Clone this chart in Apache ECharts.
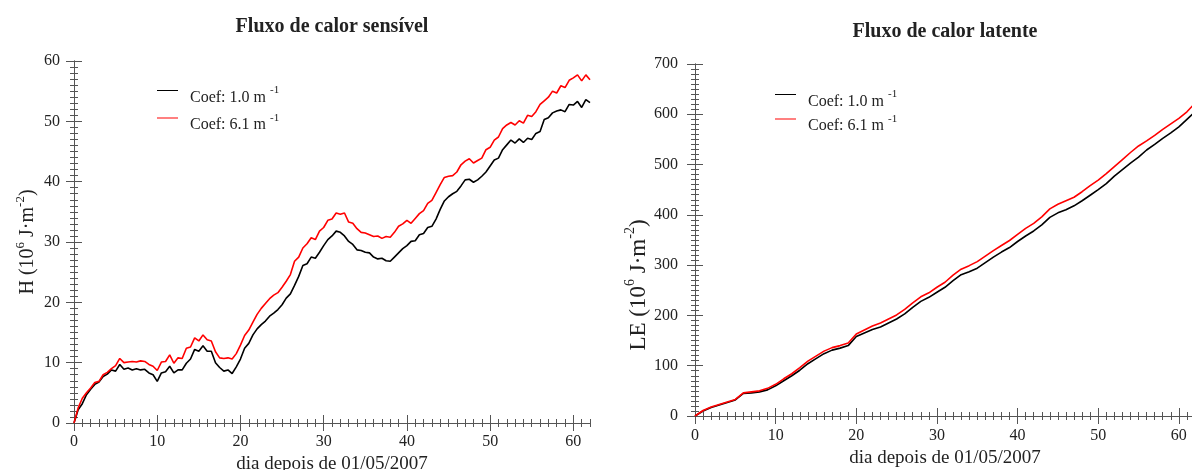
<!DOCTYPE html>
<html>
<head>
<meta charset="utf-8">
<script src="https://cdn.jsdelivr.net/npm/echarts@6/dist/echarts.min.js"></script>
<style>
  html, body { margin: 0; padding: 0; background: #ffffff; }
  #chart { width: 1192px; height: 470px; }
</style>
</head>
<body>
<div id="chart"></div>
<script>
// Accumulated heat fluxes after 01/05/2007 for two attenuation coefficients.
const SERIES_NAMES = ['Coef: 1.0 m-1', 'Coef: 6.1 m-1'];

// Sensible heat, sampled every half day from day 0 to day 62 (10^6 J m^-2)
const H_STEP_DAYS = 0.5;
const H_COEF_1 = [
  0, 2.2, 3.2, 4.7, 5.6, 6.4, 6.8, 7.7, 8.1, 8.8,
  8.6, 9.7, 8.9, 9.1, 8.8, 9.0, 8.8, 8.9, 8.3, 8.0,
  6.9, 8.3, 8.5, 9.4, 8.3, 8.8, 8.8, 9.9, 10.6, 12.2,
  11.9, 12.8, 11.9, 11.9, 10.0, 9.2, 8.6, 8.8, 8.2, 9.3,
  10.6, 12.4, 13.2, 14.6, 15.6, 16.3, 16.9, 17.7, 18.2, 18.8,
  19.6, 20.7, 21.4, 22.8, 24.3, 26.1, 26.4, 27.5, 27.3, 28.3,
  29.4, 30.4, 31.0, 31.8, 31.6, 31.0, 30.1, 29.6, 28.7, 28.6,
  28.3, 28.2, 27.5, 27.2, 27.3, 26.9, 26.8, 27.5, 28.2, 28.9,
  29.4, 30.1, 30.2, 31.2, 31.4, 32.4, 32.6, 33.8, 35.4, 36.8,
  37.5, 38.0, 38.4, 39.3, 40.3, 40.4, 39.9, 40.3, 40.9, 41.6,
  42.6, 43.6, 43.9, 45.3, 46.1, 46.9, 46.4, 47.1, 46.5, 47.2,
  47.0, 48.0, 48.3, 50.3, 50.6, 51.4, 51.7, 51.9, 51.6, 52.8,
  52.7, 53.3, 52.3, 53.6, 53.1
];
const H_COEF_61 = [
  0, 2.5, 4.1, 5.0, 5.8, 6.7, 6.9, 8.0, 8.4, 9.0,
  9.5, 10.7, 10.0, 10.1, 10.2, 10.1, 10.3, 10.2, 9.7, 9.4,
  8.7, 10.1, 10.2, 11.3, 9.9, 10.8, 10.7, 12.4, 12.6, 14.1,
  13.6, 14.6, 13.8, 13.6, 11.8, 10.8, 10.7, 10.8, 10.6, 11.5,
  12.9, 14.5, 15.4, 16.7, 18.0, 19.0, 19.8, 20.6, 21.2, 21.6,
  22.5, 23.5, 24.6, 26.8, 27.5, 29.0, 29.7, 30.7, 30.4, 31.8,
  32.4, 33.6, 33.8, 34.8, 34.6, 34.8, 33.3, 33.1, 32.2, 31.6,
  31.5, 31.2, 30.9, 31.0, 30.6, 30.9, 30.8, 31.6, 32.6, 33.0,
  33.6, 33.1, 33.9, 34.7, 35.2, 36.4, 36.9, 38.2, 39.5, 40.7,
  40.9, 41.0, 41.6, 42.8, 43.4, 43.8, 43.1, 43.5, 43.9, 45.3,
  45.7, 46.9, 47.4, 48.8, 49.4, 49.8, 49.4, 50.1, 49.7, 51.0,
  50.8, 51.6, 52.8, 53.4, 54.0, 55.0, 54.7, 55.9, 55.6, 56.8,
  57.2, 57.7, 56.7, 57.7, 56.9
];

// Latent heat, sampled once a day from day 0 to day 62 (10^6 J m^-2)
const LE_STEP_DAYS = 1;
const LE_COEF_1 = [
  0, 10, 17, 22, 27, 32, 45, 46, 48, 52,
  60, 70, 80, 91, 104, 114, 124, 131, 135, 140,
  158, 165, 172, 177, 185, 193, 203, 216, 228, 236,
  246, 256, 269, 281, 287, 294, 305, 316, 326, 335,
  347, 358, 368, 380, 395, 404, 410, 418, 428, 439,
  450, 462, 477, 490, 503, 515, 529, 540, 552, 563,
  575, 590, 605
];
const LE_COEF_61 = [
  0, 11, 18, 23, 28, 33, 46, 48, 50, 55,
  63, 74, 84, 96, 109, 119, 129, 136, 140, 145,
  163, 171, 179, 185, 193, 201, 212, 225, 237, 245,
  256, 266, 280, 292, 299, 307, 318, 329, 339, 349,
  361, 373, 383, 396, 412, 421, 428, 435, 446, 458,
  469, 482, 496, 510, 524, 537, 547, 558, 570, 581,
  592, 605, 622
];

// Axis ranges and labelled ticks
const DAY_TICKS = [0, 10, 20, 30, 40, 50, 60];
const H_TICKS = [0, 10, 20, 30, 40, 50, 60];
const LE_TICKS = [0, 100, 200, 300, 400, 500, 600, 700];
const DAY_MAX = 62;

const TITLES = ['Fluxo de calor sensível', 'Fluxo de calor latente'];
const X_NAME = 'dia depois de 01/05/2007';

const SERIF = "'Liberation Serif', 'Times New Roman', serif";
const AXIS_COLOR = '#555555';
const TEXT_COLOR = '#222222';

function toPairs(values, step) {
  return values.map((v, i) => [i * step, v]);
}

const legendRich = {
  a: { fontFamily: SERIF, fontSize: 16, color: TEXT_COLOR, padding: [14, 0, 0, 7] },
  s: { fontFamily: SERIF, fontSize: 11, color: TEXT_COLOR, padding: [0, 0, 0, 4] }
};
function legendLabel(name) {
  const base = name.replace(/-1$/, '').trim();
  return '{a|' + base + '}{s|-1}';
}

function nameRich(size) {
  return {
    m: { fontFamily: SERIF, fontSize: size, color: TEXT_COLOR },
    s: { fontFamily: SERIF, fontSize: Math.round(size * 0.63), color: TEXT_COLOR, padding: [0, 0, Math.round(size * 0.72), 0] }
  };
}

// One labelled axis with long ticks plus an overlaid axis carrying the short ticks
function xAxes(gridIndex, labelMargin, nameGap) {
  const common = { type: 'value', gridIndex, min: 0, max: DAY_MAX, splitLine: { show: false } };
  return [
    Object.assign({}, common, {
      position: 'bottom', interval: 10,
      axisLine: { show: true, lineStyle: { color: AXIS_COLOR, width: 1 } },
      axisTick: { show: true, length: 8, customValues: DAY_TICKS, lineStyle: { color: AXIS_COLOR } },
      axisLabel: { show: true, customValues: DAY_TICKS, margin: labelMargin, fontFamily: SERIF, fontSize: 16, color: TEXT_COLOR },
      name: X_NAME, nameLocation: 'middle', nameGap,
      nameTextStyle: { fontFamily: SERIF, fontSize: 19, color: TEXT_COLOR }
    }),
    Object.assign({}, common, {
      position: 'bottom', interval: 1,
      axisLine: { show: false }, axisLabel: { show: false },
      axisTick: { show: true, length: 4, lineStyle: { color: AXIS_COLOR } }
    }),
    Object.assign({}, common, {
      position: 'top', interval: 10,
      axisLine: { show: true, lineStyle: { color: AXIS_COLOR, width: 1 } },
      axisTick: { show: true, length: 8, customValues: DAY_TICKS, lineStyle: { color: AXIS_COLOR } },
      axisLabel: { show: false }
    }),
    Object.assign({}, common, {
      position: 'top', interval: 1,
      axisLine: { show: false }, axisLabel: { show: false },
      axisTick: { show: true, length: 4, lineStyle: { color: AXIS_COLOR } }
    })
  ];
}

function yAxes(gridIndex, max, major, minor, ticks, labelMargin, name, nameSize, nameGap, namePadding) {
  const common = { type: 'value', gridIndex, min: 0, max, splitLine: { show: false } };
  return [
    Object.assign({}, common, {
      position: 'left', interval: major,
      axisLine: { show: true, lineStyle: { color: AXIS_COLOR, width: 1 } },
      axisTick: { show: true, length: 8, lineStyle: { color: AXIS_COLOR } },
      axisLabel: { show: true, customValues: ticks, margin: labelMargin, fontFamily: SERIF, fontSize: 16, color: TEXT_COLOR },
      name, nameLocation: 'middle', nameGap, nameRotate: 90,
      nameTextStyle: { fontFamily: SERIF, fontSize: nameSize, color: TEXT_COLOR, rich: nameRich(nameSize), padding: namePadding }
    }),
    Object.assign({}, common, {
      position: 'left', interval: minor,
      axisLine: { show: false }, axisLabel: { show: false },
      axisTick: { show: true, length: 4, lineStyle: { color: AXIS_COLOR } }
    }),
    Object.assign({}, common, {
      position: 'right', interval: major,
      axisLine: { show: true, lineStyle: { color: AXIS_COLOR, width: 1 } },
      axisTick: { show: true, length: 8, lineStyle: { color: AXIS_COLOR } },
      axisLabel: { show: false }
    }),
    Object.assign({}, common, {
      position: 'right', interval: minor,
      axisLine: { show: false }, axisLabel: { show: false },
      axisTick: { show: true, length: 4, lineStyle: { color: AXIS_COLOR } }
    })
  ];
}

function lineSeries(name, color, xIndex, yIndex, data) {
  return {
    type: 'line', name, xAxisIndex: xIndex, yAxisIndex: yIndex, data,
    showSymbol: false, symbol: 'none', animation: false, silent: true,
    lineStyle: { color, width: 1.6 }, itemStyle: { color }
  };
}

function legendAt(left, top, gap) {
  return {
    data: SERIES_NAMES, orient: 'vertical', left, top, padding: 0,
    itemWidth: 21, itemHeight: 1, itemGap: gap, icon: 'rect',
    selectedMode: false, formatter: legendLabel,
    textStyle: { fontFamily: SERIF, fontSize: 16, color: TEXT_COLOR, rich: legendRich }
  };
}

const chart = echarts.init(document.getElementById('chart'), null, { renderer: 'canvas' });

chart.setOption({
  backgroundColor: '#ffffff',
  animation: false,
  title: [
    { text: TITLES[0], left: 332, top: 17, textAlign: 'center', padding: 0,
      textStyle: { fontFamily: SERIF, fontWeight: 'bold', fontSize: 20, color: TEXT_COLOR } },
    { text: TITLES[1], left: 945, top: 22, textAlign: 'center', padding: 0,
      textStyle: { fontFamily: SERIF, fontWeight: 'bold', fontSize: 20, color: TEXT_COLOR } }
  ],
  legend: [legendAt(157, 85, 7), legendAt(775, 89, 4)],
  grid: [
    { left: 74, top: 61, width: 516, height: 362, containLabel: false, outerBoundsMode: 'none' },
    { left: 695, top: 64, width: 500, height: 352, containLabel: false, outerBoundsMode: 'none' }
  ],
  xAxis: [].concat(xAxes(0, 11, 29), xAxes(1, 12, 31)),
  yAxis: [].concat(
    yAxes(0, 60, 10, 1, H_TICKS, 14, '{m|H (10}{s|6}{m| J·m}{s|-2}{m|)}', 20, 33, 0),
    yAxes(1, 700, 100, 10, LE_TICKS, 17, '{m|LE (10}{s|6}{m| J·m}{s|-2}{m|)}', 23, 36, [0, 90, 0, 0])
  ),
  series: [
    lineSeries(SERIES_NAMES[0], '#000000', 0, 0, toPairs(H_COEF_1, H_STEP_DAYS)),
    lineSeries(SERIES_NAMES[1], '#ff0000', 0, 0, toPairs(H_COEF_61, H_STEP_DAYS)),
    lineSeries(SERIES_NAMES[0], '#000000', 4, 4, toPairs(LE_COEF_1, LE_STEP_DAYS)),
    lineSeries(SERIES_NAMES[1], '#ff0000', 4, 4, toPairs(LE_COEF_61, LE_STEP_DAYS))
  ]
});
</script>
</body>
</html>
